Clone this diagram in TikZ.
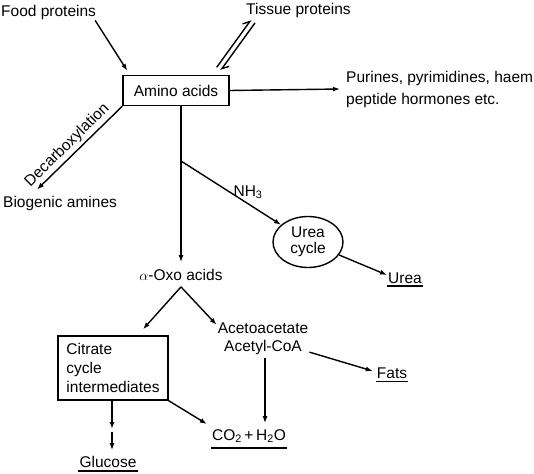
\documentclass[tikz,border=0pt]{standalone}
\usepackage{fontspec}
\setmainfont{Liberation Sans}
\usepackage{tikz}
\usetikzlibrary{arrows.meta,positioning,shapes.geometric}
\tikzset{
  txt/.style={inner sep=1pt, font=\fontsize{15.5}{18}\selectfont},
  boxnode/.style={txt, draw, line width=1.4pt, minimum width=106pt, minimum height=30pt},
  cyclenode/.style={txt, draw, ellipse, line width=1.4pt, inner sep=0pt,
    minimum width=70pt, minimum height=51pt, align=center, font=\fontsize{15.5}{16}\selectfont},
  flow/.style={-{Latex[length=7pt,width=5pt]}, line width=1.4pt},
  harp/.style={-{Straight Barb[harpoon,length=6pt,width=9pt]}, line width=1.4pt},
  uline/.style={line width=1.4pt}
}
\begin{document}
\begin{tikzpicture}[x=1pt,y=-1pt]
\useasboundingbox (0,0) rectangle (534,473);
\node[txt, anchor=west] (food) at (0,12) {Food proteins};
\node[txt, anchor=west] (tissue) at (245,10) {Tissue proteins};
\node[boxnode] (amino) at (176,90.5) {Amino acids};
\node[txt, anchor=west, align=left, font=\fontsize{15.5}{22}\selectfont] (purines) at (345,89) {Purines, pyrimidines, haem\\peptide hormones etc.};
\node[txt, anchor=west] (biogenic) at (2,203) {Biogenic amines};
\node[txt] (oxo) at (181,275) {$\alpha$-Oxo acids};
\node[cyclenode] (ucyc) at (308,242) {Urea\\cycle};
\node[txt] (urea) at (405,278) {Urea};
\node[boxnode, minimum width=110pt, minimum height=64pt, align=left, font=\fontsize{15.5}{19}\selectfont] (citrate) at (113,368) {Citrate\\cycle\\intermediates};
\node[txt, align=center] (acetyl) at (263,339) {Acetoacetate\\Acetyl-CoA};
\node[txt] (fats) at (392,373) {Fats};
\node[txt] (co2) at (249,436) {CO\textsubscript{2}\,+\,H\textsubscript{2}O};
\node[txt] (glucose) at (108,462) {Glucose};
\coordinate (nh) at (181,161);
\coordinate (gmid) at (112,429);

\draw[flow] ([xshift=-2pt]food.south east) -- ([xshift=5pt,yshift=4pt]amino.north west);
\draw[harp, transform canvas={xshift=-2pt,yshift=1.5pt}] ([xshift=-11pt,yshift=6pt]amino.north east) -- ([xshift=8pt,yshift=-3pt]tissue.south west);
\draw[harp, transform canvas={xshift=2pt,yshift=-1.5pt}] ([xshift=8pt,yshift=-3pt]tissue.south west) -- ([xshift=-11pt,yshift=6pt]amino.north east);
\draw[flow] (amino.east) -- ([xshift=-5pt]purines.west);
\draw[flow] (amino.south west) -- node[txt, sloped, above=1.5pt, pos=0.56] {Decarboxylation} ([xshift=35pt,yshift=5pt]biogenic.north west);
\draw[flow] (amino.south -| oxo.north) -- ([yshift=6pt]oxo.north);
\draw[flow] (nh) -- node[txt, pos=0.67, above=3pt] {NH\textsubscript{3}} (ucyc);
\draw[flow] (ucyc) -- ([yshift=3pt]urea.west);
\draw[flow] ([yshift=-5pt]oxo.south) -- ([xshift=30pt,yshift=6pt]citrate.north);
\draw[flow] ([yshift=-5pt]oxo.south) -- ([yshift=-3pt]acetyl.north west);
\draw[flow] ([yshift=4pt]acetyl.south east) -- ([xshift=-3pt,yshift=2pt]fats.west);
\draw[flow, shorten <=2pt, shorten >=5pt] ([xshift=2pt]acetyl.south) -- ([xshift=2pt]acetyl.south |- co2.north);
\draw[flow] (citrate.south east) -- ([xshift=-4pt,yshift=4pt]co2.north west);
\draw[flow] (citrate.south -| gmid) -- (gmid);
\draw[flow, shorten >=5pt] ([yshift=-3pt]gmid) -- (gmid |- glucose.north);

% underlined end products
\draw[uline] ([yshift=-1.5pt]urea.south west) -- ([yshift=-1.5pt]urea.south east);
\draw[uline] ([yshift=-2pt]fats.south west) -- ([yshift=-2pt]fats.south east);
\draw[uline] ([yshift=-4pt]co2.south west) -- ([yshift=-4pt]co2.south east);
\draw[uline] ([yshift=-2pt]glucose.south west) -- ([yshift=-2pt]glucose.south east);
\end{tikzpicture}
\end{document}
